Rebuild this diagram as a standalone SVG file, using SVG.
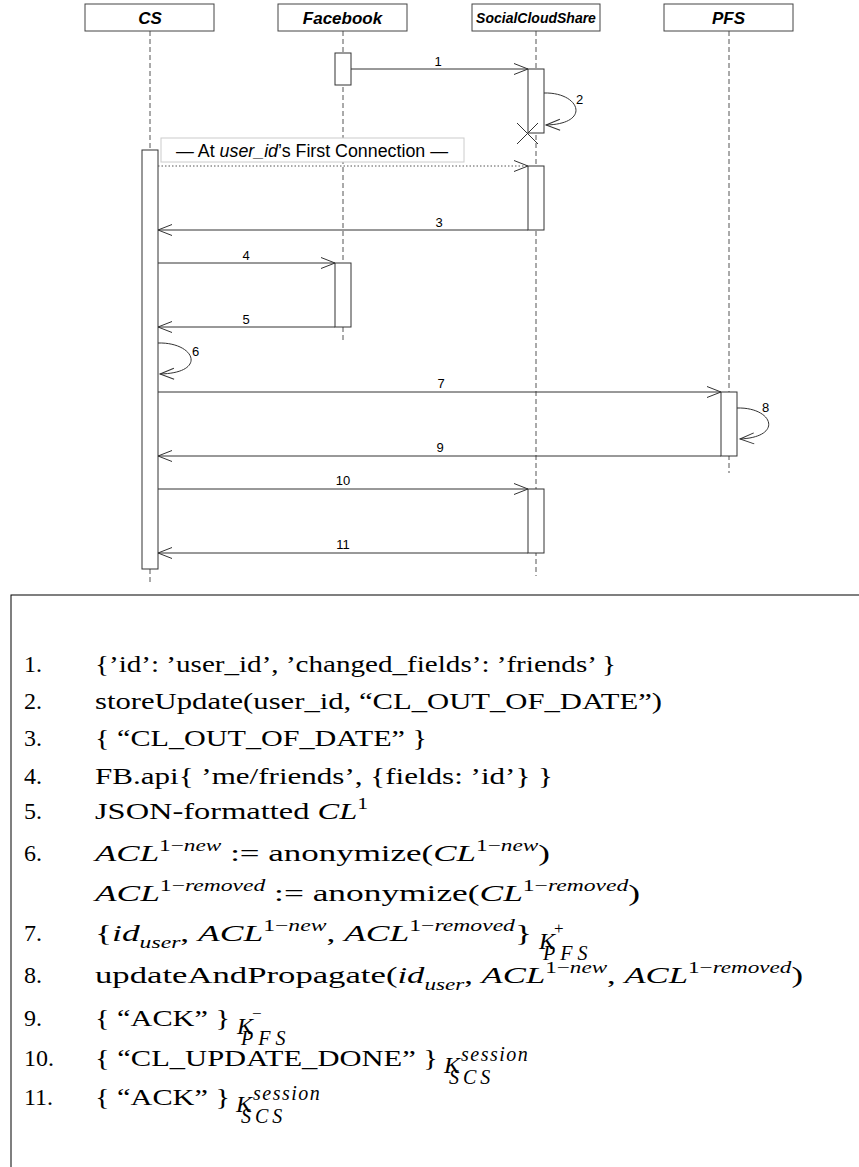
<svg xmlns="http://www.w3.org/2000/svg" width="859" height="1167" viewBox="0 0 859 1167">
<style>
.hdr{fill:#fff;stroke:#444;stroke-width:1}
.hl{font-family:"Liberation Sans",Arial,sans-serif;font-weight:bold;font-style:italic;font-size:17px;text-anchor:middle;fill:#000}
.life{stroke:#555;stroke-width:1;stroke-dasharray:5,3;fill:none}
.act{fill:#fff;stroke:#333;stroke-width:1}
.msg{stroke:#333;stroke-width:1;fill:none}
.dot{stroke:#555;stroke-width:1;fill:none;stroke-dasharray:1.5,2}
.lbl{font-family:"Liberation Sans",Arial,sans-serif;font-size:13px;fill:#000}
.note{fill:#fff;stroke:#ccc;stroke-width:1}
.nt{font-family:"Liberation Sans",Arial,sans-serif;font-size:17.5px;fill:#000}
.tx{font-family:"Liberation Serif","Times New Roman",serif;font-size:24px;fill:#000}
.i{font-style:italic}
.s{font-size:16px}
.k{font-family:"Liberation Serif","Times New Roman",serif;font-size:24px;font-style:italic;fill:#000}
.ss{font-size:20px;font-style:italic}
.sg{font-size:17px;font-style:normal}
</style>
<defs>
<marker id="ah" markerUnits="userSpaceOnUse" markerWidth="16" markerHeight="14" viewBox="-15 -7 16 14" refX="0" refY="0" orient="auto" overflow="visible">
<path d="M-14,-5.5 L0,0 L-14,5.5" fill="none" stroke="#333" stroke-width="1"/>
</marker>
</defs>
<rect width="859" height="1167" fill="#fff"/>

<g id="CS">
<line class="life" x1="150" y1="31" x2="150" y2="150"/>
<line class="life" x1="150" y1="569" x2="150" y2="582"/>
<rect class="hdr" x="85" y="4" width="129" height="27"/>
<text class="hl" x="150" y="24">CS</text>
</g>
<g id="Facebook">
<line class="life" x1="343" y1="31" x2="343" y2="342"/>
<rect class="hdr" x="278" y="4" width="129" height="27"/>
<text class="hl" x="342.5" y="24">Facebook</text>
</g>
<g id="SocialCloudShare">
<line class="life" x1="536" y1="31" x2="536" y2="576"/>
<rect class="hdr" x="472" y="4" width="128" height="27"/>
<text class="hl" x="536" y="23" style="font-size:14px">SocialCloudShare</text>
</g>
<g id="PFS">
<line class="life" x1="729" y1="31" x2="729" y2="473"/>
<rect class="hdr" x="664" y="4" width="129" height="27"/>
<text class="hl" x="728.5" y="24">PFS</text>
</g>

<g id="note">
<rect class="note" x="161" y="138" width="303" height="24"/>
<text class="nt" x="176" y="157" textLength="272" lengthAdjust="spacingAndGlyphs">— At <tspan font-style="italic">user_id</tspan>’s First Connection —</text>
</g>

<g id="activations">
<rect class="act" x="335" y="53" width="16" height="32"/>
<rect class="act" x="528" y="69" width="16" height="64"/>
<rect class="act" x="142" y="150" width="16" height="419"/>
<rect class="act" x="528" y="166" width="16" height="64"/>
<rect class="act" x="335" y="263" width="16" height="64"/>
<rect class="act" x="721" y="392" width="16" height="64"/>
<rect class="act" x="528" y="489" width="16" height="64"/>
</g>

<g id="destroy">
<line class="msg" x1="517" y1="123" x2="538" y2="144"/>
<line class="msg" x1="538" y1="123" x2="517" y2="144"/>
</g>

<g id="connectors">
<line class="msg" x1="351" y1="69" x2="528" y2="69" marker-end="url(#ah)"/>
<path class="msg" d="M544,93 C580,92 592,124 546,125" marker-end="url(#ah)"/>
<line class="dot" x1="158" y1="166" x2="528" y2="166" marker-end="url(#ah)"/>
<line class="msg" x1="528" y1="230" x2="158" y2="230" marker-end="url(#ah)"/>
<line class="msg" x1="158" y1="263" x2="335" y2="263" marker-end="url(#ah)"/>
<line class="msg" x1="335" y1="327" x2="158" y2="327" marker-end="url(#ah)"/>
<path class="msg" d="M158,343 C195,342 208,373 160,374" marker-end="url(#ah)"/>
<line class="msg" x1="158" y1="392" x2="721" y2="392" marker-end="url(#ah)"/>
<path class="msg" d="M737,408 C773,407 784,437 740,439" marker-end="url(#ah)"/>
<line class="msg" x1="721" y1="456" x2="158" y2="456" marker-end="url(#ah)"/>
<line class="msg" x1="158" y1="489" x2="528" y2="489" marker-end="url(#ah)"/>
<line class="msg" x1="528" y1="553" x2="158" y2="553" marker-end="url(#ah)"/>
</g>

<g id="labels">
<text class="lbl" x="438" y="66" text-anchor="middle">1</text>
<text class="lbl" x="576" y="104">2</text>
<text class="lbl" x="439" y="227" text-anchor="middle">3</text>
<text class="lbl" x="246" y="260" text-anchor="middle">4</text>
<text class="lbl" x="246" y="324" text-anchor="middle">5</text>
<text class="lbl" x="192" y="356">6</text>
<text class="lbl" x="441" y="388" text-anchor="middle">7</text>
<text class="lbl" x="762" y="412">8</text>
<text class="lbl" x="440" y="452" text-anchor="middle">9</text>
<text class="lbl" x="343" y="485" text-anchor="middle">10</text>
<text class="lbl" x="343" y="549" text-anchor="middle">11</text>
</g>

<g id="legend">
<rect x="11" y="595" width="900" height="620" fill="none" stroke="#000" stroke-width="1"/>
<g class="tx">
<text x="24" y="672">1.</text>
<text x="24" y="709">2.</text>
<text x="24" y="746">3.</text>
<text x="24" y="784">4.</text>
<text x="24" y="819">5.</text>
<text x="24" y="861">6.</text>
<text x="24" y="941">7.</text>
<text x="24" y="983">8.</text>
<text x="24" y="1026">9.</text>
<text x="24" y="1066">10.</text>
<text x="24" y="1105">11.</text>
</g>
<text class="tx" x="95" y="672" textLength="521" lengthAdjust="spacingAndGlyphs">{’id’: ’user_id’, ’changed_fields’: ’friends’ }</text>
<text class="tx" x="95" y="709" textLength="567" lengthAdjust="spacingAndGlyphs">storeUpdate(user_id, “CL_OUT_OF_DATE”)</text>
<text class="tx" x="95" y="746" textLength="332" lengthAdjust="spacingAndGlyphs">{ “CL_OUT_OF_DATE” }</text>
<text class="tx" x="95" y="784" textLength="458" lengthAdjust="spacingAndGlyphs">FB.api{ ’me/friends’, {fields: ’id’} }</text>
<text class="tx" x="95" y="819" textLength="273" lengthAdjust="spacingAndGlyphs">JSON-formatted <tspan class="i">CL</tspan><tspan class="s" dy="-10">1</tspan></text>
<text class="tx" x="95" y="861" textLength="455" lengthAdjust="spacingAndGlyphs"><tspan class="i">ACL</tspan><tspan class="s" dy="-10">1−<tspan class="i">new</tspan></tspan><tspan dy="10"> := anonymize(</tspan><tspan class="i">CL</tspan><tspan class="s" dy="-10">1−<tspan class="i">new</tspan></tspan><tspan dy="10">)</tspan></text>
<text class="tx" x="95" y="901" textLength="545" lengthAdjust="spacingAndGlyphs"><tspan class="i">ACL</tspan><tspan class="s" dy="-10">1−<tspan class="i">removed</tspan></tspan><tspan dy="10"> := anonymize(</tspan><tspan class="i">CL</tspan><tspan class="s" dy="-10">1−<tspan class="i">removed</tspan></tspan><tspan dy="10">)</tspan></text>
<text class="tx" x="95" y="941" textLength="437" lengthAdjust="spacingAndGlyphs">{<tspan class="i">id</tspan><tspan class="s i" dy="7">user</tspan><tspan dy="-7">, </tspan><tspan class="i">ACL</tspan><tspan class="s" dy="-10">1−<tspan class="i">new</tspan></tspan><tspan dy="10">, </tspan><tspan class="i">ACL</tspan><tspan class="s" dy="-10">1−<tspan class="i">removed</tspan></tspan><tspan dy="10">}</tspan></text>
<text class="k" x="539" y="949">K<tspan class="sg" x="554" y="934">+</tspan><tspan class="ss" x="543" y="960" letter-spacing="5">PFS</tspan></text>
<text class="tx" x="95" y="983" textLength="708" lengthAdjust="spacingAndGlyphs">updateAndPropagate(<tspan class="i">id</tspan><tspan class="s i" dy="7">user</tspan><tspan dy="-7">, </tspan><tspan class="i">ACL</tspan><tspan class="s" dy="-10">1−<tspan class="i">new</tspan></tspan><tspan dy="10">, </tspan><tspan class="i">ACL</tspan><tspan class="s" dy="-10">1−<tspan class="i">removed</tspan></tspan><tspan dy="10">)</tspan></text>
<text class="tx" x="95" y="1026" textLength="135" lengthAdjust="spacingAndGlyphs">{ “ACK” }</text>
<text class="k" x="237" y="1034">K<tspan class="sg" x="252" y="1019">−</tspan><tspan class="ss" x="241" y="1045" letter-spacing="5">PFS</tspan></text>
<text class="tx" x="95" y="1066" textLength="343" lengthAdjust="spacingAndGlyphs">{ “CL_UPDATE_DONE” }</text>
<text class="k" x="444" y="1073">K<tspan class="ss" x="461" y="1061" letter-spacing="1.5">session</tspan><tspan class="ss" x="449" y="1084" letter-spacing="4">SCS</tspan></text>
<text class="tx" x="95" y="1105" textLength="135" lengthAdjust="spacingAndGlyphs">{ “ACK” }</text>
<text class="k" x="236" y="1112">K<tspan class="ss" x="253" y="1100" letter-spacing="1.5">session</tspan><tspan class="ss" x="241" y="1123" letter-spacing="4">SCS</tspan></text>
</g>
</svg>
